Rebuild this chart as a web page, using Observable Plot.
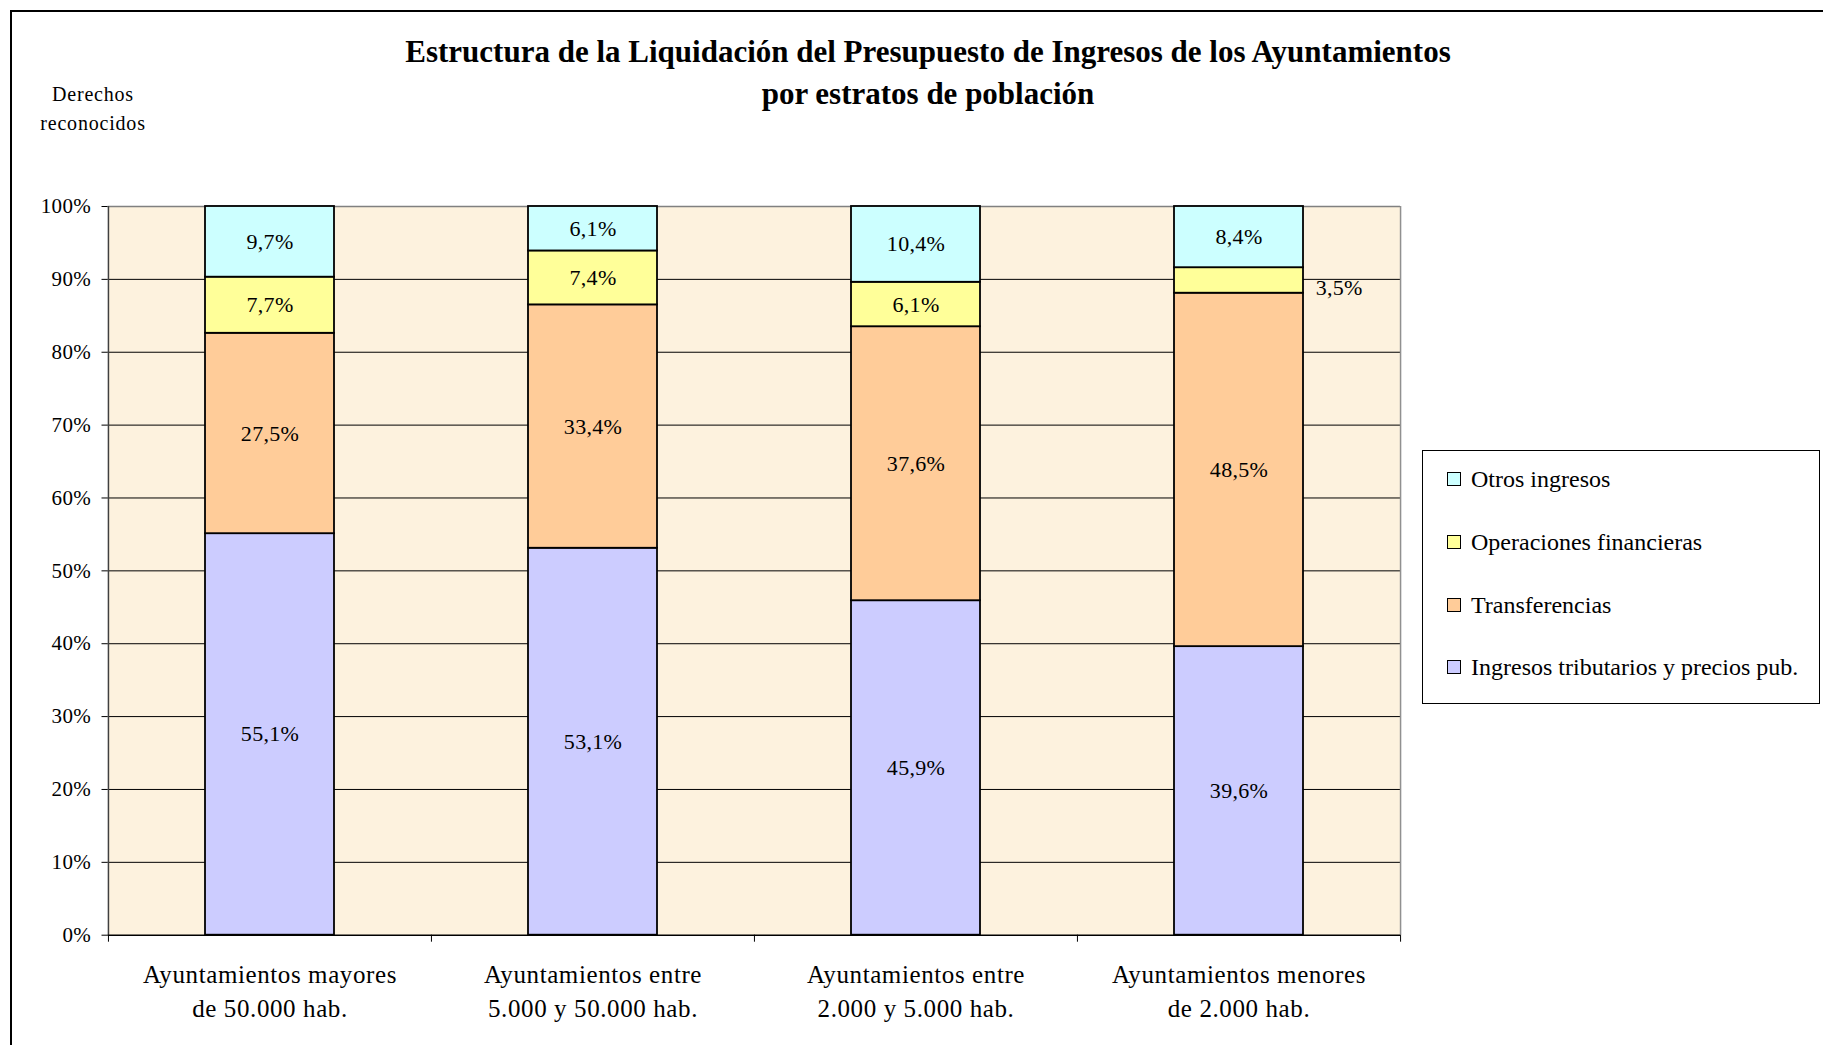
<!DOCTYPE html>
<html>
<head>
<meta charset="utf-8">
<script src="https://cdn.jsdelivr.net/npm/d3@7"></script>
<script src="https://cdn.jsdelivr.net/npm/@observablehq/plot@0.6"></script>
<style>
  html, body { margin: 0; padding: 0; background: #fff; overflow: hidden; }
  body { width: 1823px; height: 1045px; position: relative; font-family: "Liberation Serif", "Times New Roman", serif; color: #000; }
  #frame { position: absolute; left: 10px; top: 10px; width: 1813px; height: 1035px; border-left: 2px solid #000; border-top: 2px solid #000; box-sizing: border-box; }
  #title { position: absolute; left: 928px; top: 31px; transform: translateX(-50%); white-space: nowrap; text-align: center; font-weight: bold; font-size: 31px; line-height: 42px; }
  #ylabel { position: absolute; left: 93px; top: 80px; transform: translateX(-50%); white-space: nowrap; text-align: center; font-size: 20px; line-height: 29px; letter-spacing: 0.8px; }
  #chart { position: absolute; left: 0; top: 180px; }
  #legend { position: absolute; left: 1422px; top: 450px; width: 398px; height: 254px; border: 1px solid #000; box-sizing: border-box; background: #fff; }
  .item { position: absolute; left: 0; height: 30px; line-height: 30px; white-space: nowrap; font-size: 24px; }
  .sw { position: absolute; left: 24px; top: 8px; width: 12px; height: 12px; border: 1px solid #000; }
  .lab { position: absolute; left: 48px; top: 0; }
  svg text { letter-spacing: 0.3px; }
  g[aria-label="x-axis tick label"] text { letter-spacing: 0.6px; }
</style>
</head>
<body>
<div id="frame"></div>
<div id="title">Estructura de la Liquidación del Presupuesto de Ingresos de los Ayuntamientos<br>por estratos de población</div>
<div id="ylabel">Derechos<br>reconocidos</div>
<div id="chart"></div>
<div id="legend"></div>
<script>
// ---- Data ----
const categories = [
  "Ayuntamientos mayores\nde 50.000 hab.",
  "Ayuntamientos entre\n5.000 y 50.000 hab.",
  "Ayuntamientos entre\n2.000 y 5.000 hab.",
  "Ayuntamientos menores\nde 2.000 hab."
];
const series = [
  "Ingresos tributarios y precios pub.",
  "Transferencias",
  "Operaciones financieras",
  "Otros ingresos"
];
const ingresosTributarios    = [55.1, 53.1, 45.9, 39.6];
const transferencias         = [27.5, 33.4, 37.6, 48.5];
const operacionesFinancieras = [7.7, 7.4, 6.1, 3.5];
const otrosIngresos          = [9.7, 6.1, 10.4, 8.4];
const seriesColors = ["#CCCCFF", "#FFCC99", "#FFFF99", "#CCFFFF"];
const yTicks = [0, 10, 20, 30, 40, 50, 60, 70, 80, 90, 100];

// ---- Table ----
const valuesBySeries = [ingresosTributarios, transferencias, operacionesFinancieras, otrosIngresos];
const rows = categories.flatMap((c, i) =>
  series.map((s, j) => ({cat: c, series: s, value: valuesBySeries[j][i]}))
);
const fmt = v => v.toFixed(1).replace(".", ",") + "%";

// ---- Layout ----
const W = 1420, H = 865, mL = 107.5, mR = 20, mT = 26, mB = 110.3;
const step = (W - mL - mR) / categories.length;
const halfBar = step * 0.4 / 2;

const chart = Plot.plot({
  width: W,
  height: H,
  marginLeft: mL,
  marginRight: mR,
  marginTop: mT,
  marginBottom: mB,
  style: {fontFamily: "'Liberation Serif', 'Times New Roman', serif", fontSize: "21px", color: "#000", background: "transparent", overflow: "visible"},
  x: {domain: categories, paddingInner: 0.6, paddingOuter: 0.3, axis: null, label: null},
  y: {domain: [0, 100], axis: null, label: null},
  color: {domain: series, range: seriesColors},
  marks: [
    Plot.frame({fill: "#FDF2DE", stroke: null}),
    Plot.ruleY(yTicks.filter(t => t > 0 && t < 100), {stroke: "#000", strokeWidth: 1}),
    Plot.ruleY([100], {stroke: "#808080", strokeWidth: 1.5}),
    Plot.ruleX([categories[0]], {dx: -step / 2, stroke: "#404040", strokeWidth: 1.5}),
    Plot.ruleX([categories[categories.length - 1]], {dx: step / 2, stroke: "#909090", strokeWidth: 1.5}),
    Plot.ruleY([0], {stroke: "#000", strokeWidth: 1.5}),
    Plot.ruleX(categories, {dx: -step / 2, y1: 0, y2: 0, insetBottom: -7, stroke: "#000"}),
    Plot.ruleX([categories[categories.length - 1]], {dx: step / 2, y1: 0, y2: 0, insetBottom: -7, stroke: "#000"}),
    Plot.barY(rows, {x: "cat", y: "value", z: "series", fill: "series", order: series, stroke: "#000", strokeWidth: 1.8}),
    Plot.text(rows, Plot.stackY({
      x: "cat", y: "value", z: "series", order: series,
      text: d => d.value >= 5 ? fmt(d.value) : "",
      fontSize: 22, fill: "#000"
    })),
    Plot.text(rows, Plot.stackY({
      x: "cat", y: "value", z: "series", order: series,
      text: d => d.value < 5 ? fmt(d.value) : "",
      fontSize: 22, fill: "#000", textAnchor: "start", dx: halfBar + 12, dy: 7
    })),
    Plot.axisY(yTicks, {tickSize: 6, tickPadding: 11, fontSize: 21, tickFormat: d => d + "%", label: null}),
    Plot.axisX({tickSize: 0, tickPadding: 24, fontSize: 25, lineHeight: 1.36, tickFormat: d => d, label: null})
  ]
});
document.getElementById("chart").appendChild(chart);

// ---- Legend (top to bottom: reversed stack order) ----
const legend = document.getElementById("legend");
const legendOrder = series.map((s, j) => ({s, c: seriesColors[j]})).reverse();
legendOrder.forEach((d, i) => {
  const item = document.createElement("div");
  item.className = "item";
  item.style.top = (13 + i * 62.8) + "px";
  const sw = document.createElement("span");
  sw.className = "sw";
  sw.style.background = d.c;
  const lab = document.createElement("span");
  lab.className = "lab";
  lab.textContent = d.s;
  item.appendChild(sw);
  item.appendChild(lab);
  legend.appendChild(item);
});
</script>
</body>
</html>
